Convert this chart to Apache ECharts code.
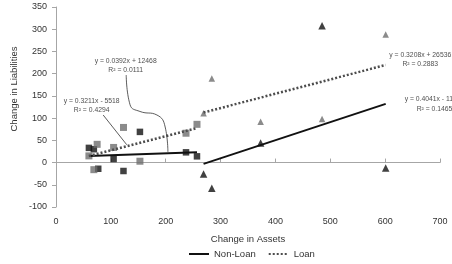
<!DOCTYPE html>
<html>
<head>
<meta charset="utf-8">
<title>Change in Liabilities vs Change in Assets</title>
<script src="https://cdn.jsdelivr.net/npm/echarts@6/dist/echarts.min.js"></script>
<style>
html, body { margin: 0; padding: 0; background: #fff; }
#main { width: 452px; height: 264px; }
</style>
</head>
<body>
<div id="main"></div>
<script>
// 数据点 [资产变化, 负债变化]
var nonLoanSmall = [[60, 33], [69, 30], [77, -14], [105, 8], [123, -19], [153, 69], [237, 23], [257, 14]];
var loanSmall = [[60, 15], [69, -16], [75, 41], [105, 34], [123, 79], [153, 3], [237, 66], [257, 86]];
var nonLoanLarge = [[269, -26], [284, -58], [373, 44], [485, 308], [601, -12]];
var loanLarge = [[269, 111], [284, 189], [373, 92], [485, 98], [601, 288]];

// 趋势线标注文字及其位置（数据坐标）
var eqTexts = [
    'y = 0.0392x + 12468\nR² = 0.0111',
    'y = 0.3211x - 5518\nR² = 0.4294',
    'y = 0.3208x + 26536\nR² = 0.2883',
    'y = 0.4041x - 11243\nR² = 0.1465'
];
var eqPos = [[127, 218], [65, 128], [664, 232], [690, 132]];

// 引线
var leaderCurve = [[128, 197], [135, 130], [153, 115], [184, 107], [199, 80], [204, 24]];
var leaderStraight = [[86, 107], [129, 40]];

var xTicks = { min: 0, max: 700, step: 100 };
var yTicks = { min: -100, max: 350, step: 50 };

// 最小二乘拟合，返回首尾两点
function fit(pts) {
    var n = pts.length, sx = 0, sy = 0, sxx = 0, sxy = 0, lo = Infinity, hi = -Infinity;
    pts.forEach(function (p) {
        sx += p[0]; sy += p[1]; sxx += p[0] * p[0]; sxy += p[0] * p[1];
        lo = Math.min(lo, p[0]); hi = Math.max(hi, p[0]);
    });
    var b = (n * sxy - sx * sy) / (n * sxx - sx * sx);
    var a = (sy - b * sx) / n;
    return [[lo, a + b * lo], [hi, a + b * hi]];
}

var font = 'Liberation Sans';
var myChart = echarts.init(document.getElementById('main'));

function dots(name, data, symbol, size, color) {
    return {
        name: name, type: 'scatter', data: data, symbol: symbol, symbolSize: size,
        itemStyle: { color: color }, z: 2
    };
}
function trend(name, data, dotted) {
    var c = dotted ? '#4d4d4d' : '#111';
    return {
        name: name, type: 'line', data: data, symbol: 'none', z: 3,
        color: c,
        itemStyle: { color: c },
        lineStyle: dotted
            ? { color: c, width: 2.5, type: [2, 2] }
            : { color: c, width: 2 }
    };
}

var option = {
    animation: false,
    grid: { left: 56, top: 7, width: 384, height: 200 },
    legend: {
        data: ['Non-Loan', 'Loan'],
        bottom: 0,
        left: 183,
        itemWidth: 20,
        itemHeight: 8,
        itemGap: 12,
        itemStyle: { opacity: 0 },
        textStyle: { fontFamily: font, fontSize: 9.5, color: '#333' }
    },
    graphic: [{
        type: 'text', x: 14, y: 89, rotation: Math.PI / 2,
        style: { text: 'Change in Liabilities', fontFamily: font, fontSize: 9.5, fill: '#333', align: 'center', verticalAlign: 'middle' }
    }],
    xAxis: [{
        type: 'value', min: xTicks.min, max: xTicks.max, interval: xTicks.step,
        position: 'bottom',
        name: 'Change in Assets', nameLocation: 'middle', nameGap: 27,
        nameTextStyle: { fontFamily: font, fontSize: 9.5, color: '#333' },
        axisLine: { show: false, onZero: false },
        axisTick: { show: false },
        splitLine: { show: false },
        axisLabel: { fontFamily: font, fontSize: 9, color: '#333', margin: 10 }
    }, {
        type: 'value', min: xTicks.min, max: xTicks.max, interval: xTicks.step,
        position: 'bottom',
        axisLine: { show: true, onZero: true, onZeroAxisIndex: 0, lineStyle: { color: '#a6a6a6', width: 1 } },
        axisTick: { show: true, inside: true, length: 4, lineStyle: { color: '#a6a6a6' } },
        axisLabel: { show: false },
        splitLine: { show: false }
    }],
    yAxis: {
        type: 'value', min: yTicks.min, max: yTicks.max, interval: yTicks.step,
        axisLine: { show: true, lineStyle: { color: '#a6a6a6', width: 1 } },
        axisTick: { show: true, length: 4, lineStyle: { color: '#a6a6a6' } },
        splitLine: { show: false },
        axisLabel: { fontFamily: font, fontSize: 9, color: '#333', margin: 9 }
    },
    series: [
        dots('nl-small', nonLoanSmall, 'rect', 6.5, '#111'),
        dots('l-small', loanSmall, 'rect', 7, '#6e6e6e'),
        dots('nl-large', nonLoanLarge, 'triangle', 7.5, '#111'),
        dots('l-large', loanLarge, 'triangle', 6.5, '#6e6e6e'),
        trend('Non-Loan', fit(nonLoanSmall), false),
        trend('Non-Loan', fit(nonLoanLarge), false),
        trend('Loan', fit(loanSmall), true),
        trend('Loan', fit(loanLarge), true),
        {
            name: 'leader1', type: 'line', data: leaderCurve, smooth: 0.5, symbol: 'none', silent: true,
            lineStyle: { color: '#333', width: 0.8 }, z: 4
        },
        {
            name: 'leader2', type: 'line', data: leaderStraight, symbol: 'none', silent: true,
            lineStyle: { color: '#333', width: 0.8 }, z: 4
        },
        {
            name: 'eq', type: 'scatter', symbolSize: 0, silent: true, clip: false, z: 5,
            data: eqPos.map(function (p, i) { return { value: p, text: eqTexts[i] }; }),
            label: {
                show: true, position: 'inside', align: 'center', verticalAlign: 'middle',
                fontFamily: font, fontSize: 6.8, lineHeight: 9.5, color: '#222',
                formatter: function (p) { return p.data.text; }
            }
        }
    ]
};

myChart.setOption(option);
</script>
</body>
</html>
